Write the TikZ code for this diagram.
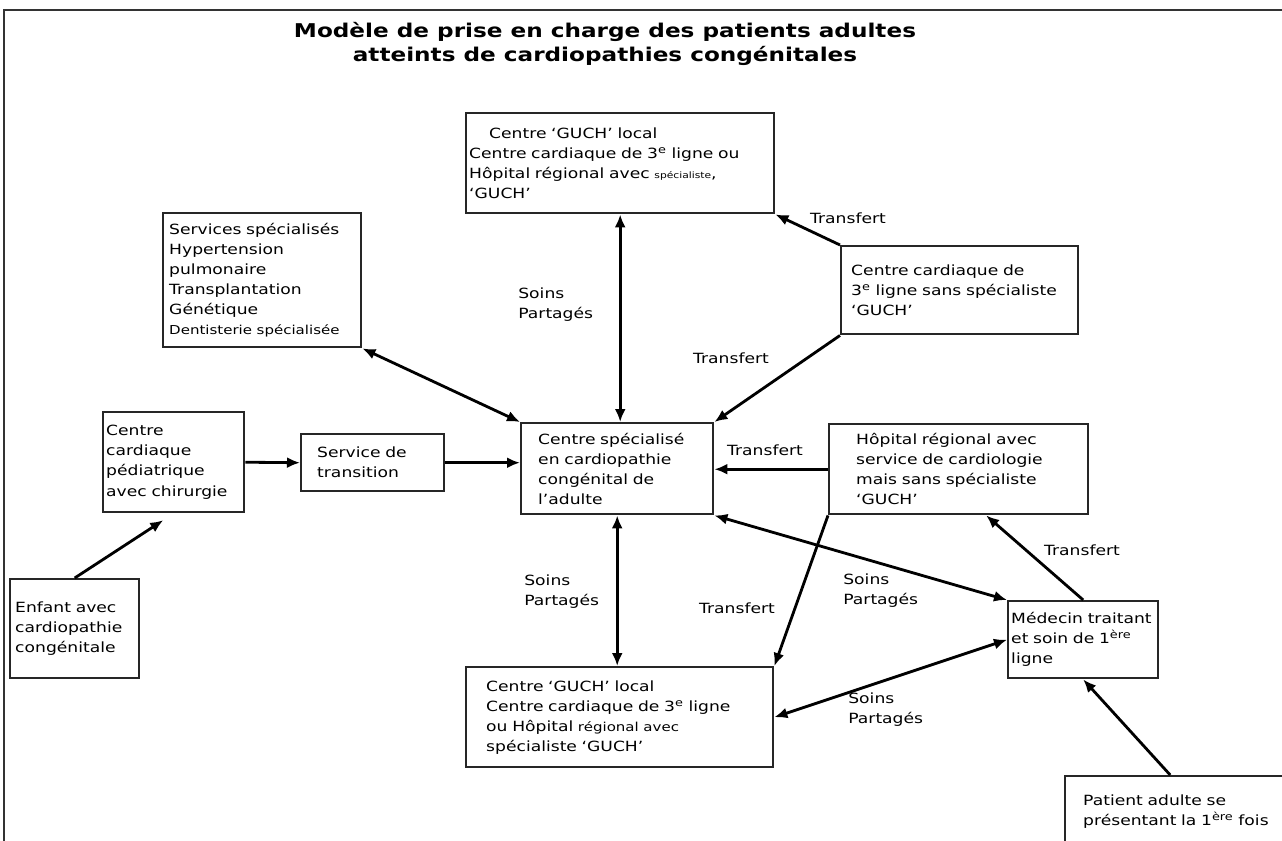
\documentclass[tikz,border=0pt]{standalone}
\usepackage{fontspec}
\setmainfont{DejaVu Sans}[FakeStretch=1.22]
\usetikzlibrary{arrows.meta}

\tikzset{
    boite/.style={draw=black!85, line width=1.4pt, rectangle, anchor=north west, align=left, inner ysep=0pt, font=\fontsize{8}{11.4}\selectfont},
    fleche/.style={line width=1.6pt, -{Latex[length=2.6mm,width=2.2mm]}},
    dfleche/.style={line width=1.6pt, {Latex[length=2.6mm,width=2.2mm]}-{Latex[length=2.6mm,width=2.2mm]}},
    etiq/.style={font=\fontsize{8}{11.4}\selectfont, align=left, inner sep=0pt}
}

\begin{document}
\begin{tikzpicture}[x=0.02cm, y=-0.02cm]
        \useasboundingbox (0,0) rectangle (1282,841);
        \clip (0,0) rectangle (1282,841);

        % frame and title
        \draw[line width=1.2pt, black!80] (4,841) -- (4,10) -- (1282,10);
        \node[font=\fontsize{10.8}{13.6}\selectfont\bfseries, align=center] (titre) at (605,44) {Modèle de prise en charge des patients adultes\\atteints de cardiopathies congénitales};

        % boxes
        \node[boite, minimum width=6.16cm, minimum height=2cm, inner xsep=0.06cm, text width=6.04cm] (hautGUCH) at (465,112) {\hspace{0.4cm}Centre ‘GUCH’ local\\Centre cardiaque de 3\textsuperscript{e} ligne ou\\Hôpital régional avec {\tiny spécialiste},\\ ‘GUCH’};
        \node[boite, minimum width=3.96cm, minimum height=2.68cm, inner xsep=0.12cm, text width=3.72cm] (services) at (162,212) {Services spécialisés\\Hypertension\\pulmonaire\\Transplantation\\Génétique\\{\scriptsize Dentisterie spécialisée}};
        \node[boite, minimum width=4.74cm, minimum height=1.76cm, inner xsep=0.2cm, text width=4.34cm] (ccsans) at (840,245) {Centre cardiaque de\\3\textsuperscript{e} ligne sans spécialiste\\‘GUCH’};
        \node[boite, minimum width=2.82cm, minimum height=2cm, inner xsep=0.06cm, text width=2.7cm] (pediatrique) at (102,411) {Centre\\cardiaque\\pédiatrique\\avec chirurgie};
        \node[boite, minimum width=2.86cm, minimum height=1.14cm, inner xsep=0.32cm, text width=2.22cm] (transition) at (300,433) {Service de\\transition};
        \node[boite, minimum width=3.84cm, minimum height=1.82cm, inner xsep=0.34cm, text width=3.16cm] (centre) at (520,422) {Centre spécialisé\\en cardiopathie\\congénital de\\l’adulte};
        \node[boite, minimum width=5.18cm, minimum height=1.8cm, inner xsep=0.54cm, text width=4.1cm] (hopital) at (828,423) {Hôpital régional avec\\service de cardiologie\\mais sans spécialiste\\‘GUCH’};
        \node[boite, minimum width=2.58cm, minimum height=1.98cm, inner xsep=0.1cm, text width=2.38cm] (enfant) at (9,578) {Enfant avec\\cardiopathie\\congénitale};
        \node[boite, minimum width=6.14cm, minimum height=2cm, inner xsep=0.4cm, text width=5.34cm] (basGUCH) at (465,666) {Centre ‘GUCH’ local\\Centre cardiaque de 3\textsuperscript{e} ligne\\ou Hôpital {\scriptsize régional avec}\\spécialiste ‘GUCH’};
        \node[boite, minimum width=3cm, minimum height=1.54cm, inner xsep=0.06cm, text width=2.88cm] (medecin) at (1007,600) {Médecin traitant\\et soin de 1\textsuperscript{ère}\\ligne};
        \node[boite, minimum width=4.8cm, minimum height=1.4cm, inner xsep=0.36cm, text width=4.08cm] (patient) at (1064,775) {Patient adulte se\\présentant la 1\textsuperscript{ère} fois};

        % arrows
        \draw[dfleche] (hautGUCH.south) -- (hautGUCH.south |- centre.north);
        \draw[dfleche] (services.south east) -- (centre.north west);
        \draw[fleche] (ccsans.north west) -- (hautGUCH.south east);
        \draw[fleche] (ccsans.south west) -- (centre.north east);
        \draw[fleche] (pediatrique.east) -- (transition.west);
        \draw[fleche] (transition.east) -- (transition.east -| centre.west);
        \draw[fleche] (hopital.west) -- (hopital.west -| centre.east);
        \draw[fleche] (hopital.south west) -- (basGUCH.north east);
        \draw[dfleche] (centre.south east) -- (medecin.north west);
        \draw[dfleche] (basGUCH.east) -- (medecin.west);
        \draw[fleche] (medecin.north) -- ([xshift=0.55cm]hopital.south);
        \draw[fleche] ([xshift=-0.3cm]patient.north) -- (medecin.south);
        \draw[fleche, shorten >=0.25cm] (enfant.north) -- (pediatrique.south);
        \draw[dfleche] (centre.south) -- (centre.south |- basGUCH.north);

        % labels
        \node[etiq, anchor=west] (soins1) at (518,305) {Soins\\Partagés};
        \node[etiq] (transf1) at (848,218) {Transfert};
        \node[etiq] (transf2) at (731,358) {Transfert};
        \node[etiq] (transf3) at (765,450) {Transfert};
        \node[etiq, anchor=west] (soins2) at (524,592) {Soins\\Partagés};
        \node[etiq] (transf4) at (737,608) {Transfert};
        \node[etiq, anchor=west] (soins3) at (843,591) {Soins\\Partagés};
        \node[etiq] (transf5) at (1082,550) {Transfert};
        \node[etiq, anchor=west] (soins4) at (848,710) {Soins\\Partagés};

    \end{tikzpicture}
\end{document}
